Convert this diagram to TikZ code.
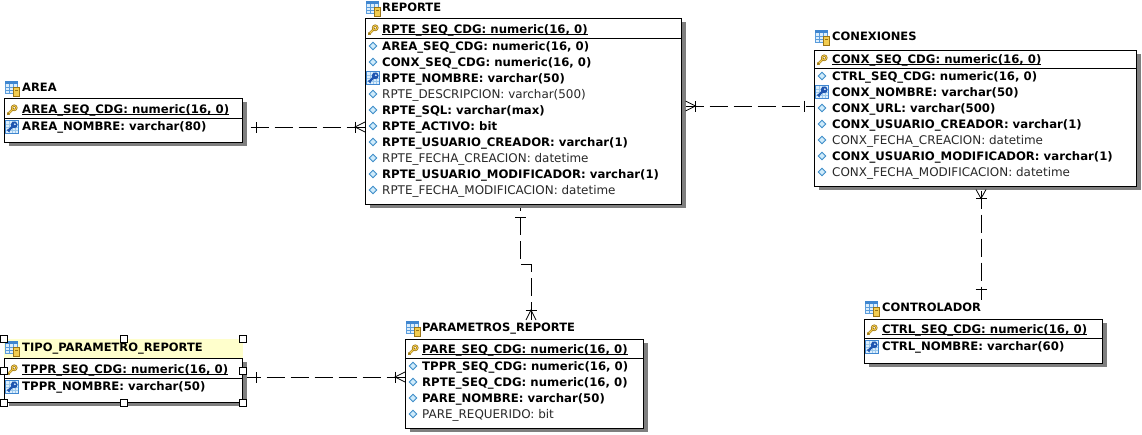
\documentclass[tikz,border=0pt]{standalone}
\usepackage{fontspec}
\setmainfont{DejaVu Sans}
\usetikzlibrary{shadows,calc}
\pgfdeclarelayer{bg}
\pgfsetlayers{bg,main}
\definecolor{shadowgray}{HTML}{7F7F7F}
\definecolor{titleyellow}{HTML}{FFFFCC}
\definecolor{iconblue}{HTML}{5A9CDC}
\definecolor{iconhead}{HTML}{3F86D0}
\definecolor{iconlight}{HTML}{DCEEFC}
\definecolor{icongrid}{HTML}{9CC8EC}
\definecolor{icondark}{HTML}{1F55B0}
\definecolor{gold}{HTML}{F2CC50}
\definecolor{golddark}{HTML}{9A7414}
\definecolor{diamondblue}{HTML}{CFEBFB}
\definecolor{diamondline}{HTML}{3C8CC8}
\definecolor{regtext}{HTML}{282828}
\newsavebox{\ulbox}
\newcommand{\keyline}[1]{\sbox{\ulbox}{#1}\rlap{\rule[-1.6pt]{\wd\ulbox}{1pt}}#1}
\tikzset{
  x=1pt,y=-1pt,
  tablebox/.style={draw=black,line width=1pt,fill=white,anchor=north west,inner sep=0pt,outer sep=0pt,
    drop shadow={shadow xshift=4.5pt,shadow yshift=-3.5pt,fill=shadowgray,opacity=1}},
  titlenode/.style={anchor=base west,yshift=-4pt,inner sep=0pt,font=\fontsize{11.5}{13}\selectfont\bfseries},
  titlearea/.style={anchor=north west,inner sep=0pt,outer sep=0pt,minimum height=19pt},
  pkrow/.style={anchor=base west,yshift=-4pt,inner sep=0pt,font=\fontsize{11.7}{13}\selectfont\bfseries},
  boldrow/.style={anchor=base west,yshift=-4pt,inner sep=0pt,font=\fontsize{11.7}{13}\selectfont\bfseries},
  regrow/.style={anchor=base west,yshift=-4pt,inner sep=0pt,text=regtext,font=\fontsize{11.95}{13}\selectfont},
  rel/.style={draw=black,line width=1pt,dash pattern=on 18pt off 6pt},
  relmark/.style={draw=black,line width=1pt},
  handle/.style={draw=black,line width=0.9pt,fill=white,minimum size=7pt,inner sep=0pt,outer sep=0pt},
}
% icons: centre given in picture pixels
\newcommand{\tblicon}[2]{%
  \begin{scope}[shift={(#1,#2)}]
    \fill[iconblue] (-7,-7) rectangle (6,6);
    \fill[iconhead] (-7,-7) rectangle (6,-4);
    \fill[iconlight] (-6,-4) rectangle (5,5);
    \foreach \yy in {-1,2}{\draw[iconblue,line width=0.8pt] (-6,\yy) -- (5,\yy);}
    \foreach \xx in {-3,1}{\draw[iconblue,line width=0.8pt] (\xx,-4) -- (\xx,5);}
    \fill[gold] (1.5,-1) rectangle (7.5,8);
    \draw[golddark,line width=0.5pt] (1.5,-1) rectangle (7.5,8);
    \fill[golddark] (3,2) rectangle (6,3);
  \end{scope}}
\newcommand{\keyicon}[2]{%
  \begin{scope}[shift={(#1,#2)}]
    \draw[golddark,line width=2.4pt,line cap=round] (-4,4) -- (1,-1);
    \draw[gold,line width=1.1pt,line cap=round] (-4,4) -- (1,-1);
    \draw[golddark,line width=1pt] (-4.5,2.5) -- (-2.5,4.5);
    \draw[golddark,line width=2.2pt] (2.2,-2.2) circle (2.2pt);
    \draw[gold,line width=0.9pt] (2.2,-2.2) circle (2.2pt);
  \end{scope}}
\newcommand{\bluekeyicon}[2]{%
  \begin{scope}[shift={(#1,#2)}]
    \fill[iconhead] (-7,-7) rectangle (7,7);
    \fill[iconlight] (-6,-6) rectangle (6,6);
    \foreach \yy in {-3,0,3}{\draw[icongrid,line width=0.6pt] (-6,\yy) -- (6,\yy);}
    \foreach \xx in {-3,0,3}{\draw[icongrid,line width=0.6pt] (\xx,-6) -- (\xx,6);}
    \draw[icondark,line width=2.4pt] (-4,4) -- (1,-1);
    \draw[icondark,line width=1.2pt] (-4.5,2.5) -- (-2.5,4.5);
    \fill[icondark] (2.2,-2.2) circle (3.4pt);
    \fill[iconlight] (2.8,-2.8) circle (1pt);
  \end{scope}}
\newcommand{\dmdicon}[2]{%
  \fill[diamondblue,draw=diamondline,line width=0.9pt] (#1-3.7,#2) -- (#1,#2-3.7) -- (#1+3.7,#2) -- (#1,#2+3.7) -- cycle;}
% one and many marks: #1 anchor point, #2,#3 outward unit vector, #4 distance
\newcommand{\onemark}[4]{%
  \draw[relmark] ($(#1)+(#2*#4+#3*5.5,#3*#4+#2*5.5)$) -- ($(#1)+(#2*#4-#3*5.5,#3*#4-#2*5.5)$);}
\newcommand{\manymark}[4]{%
  \draw[relmark,line width=0.8pt] ($(#1)+(#3*5,#2*5)$) -- ($(#1)+(#2*#4,#3*#4)$) -- ($(#1)+(-#3*5,-#2*5)$);
  \draw[relmark] ($(#1)+(#2*#4+#3*5.5,#3*#4+#2*5.5)$) -- ($(#1)+(#2*#4-#3*5.5,#3*#4-#2*5.5)$);}
\begin{document}
\begin{tikzpicture}
\useasboundingbox (0,0) rectangle (1142,434);
\begin{pgfonlayer}{bg}
\fill[white] (0,0) rectangle (1142,434);
\end{pgfonlayer}

% ---------- AREA
\node[titlearea,minimum width=238.5pt] (areatitle) at (4,79) {};
\node[tablebox,minimum width=238.5pt,minimum height=44.5pt] (area) at (4,98) {};
\tblicon{12}{88}
\node[titlenode] (areaname) at (22,87) {AREA};
\keyicon{12}{110}
\node[pkrow] (area1) at (22,109) {\keyline{AREA\_SEQ\_CDG: numeric(16, 0)}};
\draw[line width=1pt] (area.west |- 0,118) -- (area.east |- 0,118);
\bluekeyicon{12}{127}
\node[boldrow] (area2) at (22,126) {AREA\_NOMBRE: varchar(80)};

% ---------- TIPO_PARAMETRO_REPORTE
\fill[titleyellow] (4,339) rectangle (243,358);
\node[titlearea,minimum width=238.5pt] (tipotitle) at (4,339) {};
\node[tablebox,minimum width=238.5pt,minimum height=44.5pt] (tipo) at (4,358) {};
\tblicon{12}{348}
\node[titlenode] (tiponame) at (22,347) {TIPO\_PARAMETRO\_REPORTE};
\keyicon{12}{370}
\node[pkrow] (tipo1) at (22,369) {\keyline{TPPR\_SEQ\_CDG: numeric(16, 0)}};
\draw[line width=1pt] (tipo.west |- 0,378) -- (tipo.east |- 0,378);
\bluekeyicon{12}{387}
\node[boldrow] (tipo2) at (22,386) {TPPR\_NOMBRE: varchar(50)};
\foreach \hx/\hy [count=\hi] in {4/339,124/339,243/339,4/371,243/371,4/403,124/403,243/403}
  {\node[handle] (h\hi) at (\hx,\hy) {};}

% ---------- REPORTE
\node[tablebox,minimum width=316.5pt,minimum height=186.5pt] (reporte) at (365,18) {};
\tblicon{373}{8}
\node[titlenode] (repname) at (382,7) {REPORTE};
\keyicon{373}{30}
\node[pkrow] (rep1) at (382,29) {\keyline{RPTE\_SEQ\_CDG: numeric(16, 0)}};
\draw[line width=1pt] (reporte.west |- 0,38) -- (reporte.east |- 0,38);
\dmdicon{373}{46}
\node[boldrow] (rep2) at (382,46) {AREA\_SEQ\_CDG: numeric(16, 0)};
\dmdicon{373}{62}
\node[boldrow] (rep3) at (382,62) {CONX\_SEQ\_CDG: numeric(16, 0)};
\bluekeyicon{373}{78}
\node[boldrow] (rep4) at (382,78) {RPTE\_NOMBRE: varchar(50)};
\dmdicon{373}{94}
\node[regrow] (rep5) at (382,94) {RPTE\_DESCRIPCION: varchar(500)};
\dmdicon{373}{110}
\node[boldrow] (rep6) at (382,110) {RPTE\_SQL: varchar(max)};
\dmdicon{373}{126}
\node[boldrow] (rep7) at (382,126) {RPTE\_ACTIVO: bit};
\dmdicon{373}{142}
\node[boldrow] (rep8) at (382,142) {RPTE\_USUARIO\_CREADOR: varchar(1)};
\dmdicon{373}{158}
\node[regrow] (rep9) at (382,158) {RPTE\_FECHA\_CREACION: datetime};
\dmdicon{373}{174}
\node[boldrow] (rep10) at (382,174) {RPTE\_USUARIO\_MODIFICADOR: varchar(1)};
\dmdicon{373}{190}
\node[regrow] (rep11) at (382,190) {RPTE\_FECHA\_MODIFICACION: datetime};

% ---------- CONEXIONES
\node[tablebox,minimum width=322.5pt,minimum height=136.5pt] (conex) at (814,50) {};
\tblicon{822}{37}
\node[titlenode] (conname) at (832,36) {CONEXIONES};
\keyicon{822}{60}
\node[pkrow] (con1) at (832,59) {\keyline{CONX\_SEQ\_CDG: numeric(16, 0)}};
\draw[line width=1pt] (conex.west |- 0,68) -- (conex.east |- 0,68);
\dmdicon{822}{76}
\node[boldrow] (con2) at (832,76) {CTRL\_SEQ\_CDG: numeric(16, 0)};
\bluekeyicon{822}{92}
\node[boldrow] (con3) at (832,92) {CONX\_NOMBRE: varchar(50)};
\dmdicon{822}{108}
\node[boldrow] (con4) at (832,108) {CONX\_URL: varchar(500)};
\dmdicon{822}{124}
\node[boldrow] (con5) at (832,124) {CONX\_USUARIO\_CREADOR: varchar(1)};
\dmdicon{822}{140}
\node[regrow] (con6) at (832,140) {CONX\_FECHA\_CREACION: datetime};
\dmdicon{822}{156}
\node[boldrow] (con7) at (832,156) {CONX\_USUARIO\_MODIFICADOR: varchar(1)};
\dmdicon{822}{172}
\node[regrow] (con8) at (832,172) {CONX\_FECHA\_MODIFICACION: datetime};

% ---------- CONTROLADOR
\node[titlearea,minimum width=238.5pt] (ctrltitle) at (864,300) {};
\node[tablebox,minimum width=238.5pt,minimum height=44.5pt] (ctrl) at (864,319) {};
\tblicon{872}{308}
\node[titlenode] (ctrlname) at (882,307) {CONTROLADOR};
\keyicon{872}{330}
\node[pkrow] (ctrl1) at (882,329) {\keyline{CTRL\_SEQ\_CDG: numeric(16, 0)}};
\draw[line width=1pt] (ctrl.west |- 0,338) -- (ctrl.east |- 0,338);
\bluekeyicon{872}{347}
\node[boldrow] (ctrl2) at (882,346) {CTRL\_NOMBRE: varchar(60)};

% ---------- PARAMETROS_REPORTE
\node[titlearea,minimum width=238.5pt] (paramtitle) at (405,320) {};
\node[tablebox,minimum width=238.5pt,minimum height=89.5pt] (param) at (405,339) {};
\tblicon{413}{328}
\node[titlenode] (paramname) at (422,327) {PARAMETROS\_REPORTE};
\keyicon{413}{350}
\node[pkrow] (par1) at (422,349) {\keyline{PARE\_SEQ\_CDG: numeric(16, 0)}};
\draw[line width=1pt] (param.west |- 0,358) -- (param.east |- 0,358);
\dmdicon{413}{366}
\node[boldrow] (par2) at (422,366) {TPPR\_SEQ\_CDG: numeric(16, 0)};
\dmdicon{413}{382}
\node[boldrow] (par3) at (422,382) {RPTE\_SEQ\_CDG: numeric(16, 0)};
\dmdicon{413}{398}
\node[boldrow] (par4) at (422,398) {PARE\_NOMBRE: varchar(50)};
\dmdicon{413}{414}
\node[regrow] (par5) at (422,414) {PARE\_REQUERIDO: bit};

% ---------- connectors (below the boxes and their shadows)
\begin{pgfonlayer}{bg}
\draw[rel,dash phase=16pt] (area.east |- 0,127) -- (reporte.west |- 0,127);
\draw[rel] (tipo.east |- 0,377) -- (param.west |- 0,377);
\draw[rel,dash phase=20pt] (reporte.east |- 0,106) -- (conex.west |- 0,106);
\draw[rel,dash phase=11.3pt] (reporte.south -| 520,0) -- (520,264) -- (531,264) -- (paramtitle.north -| 531,0);
\draw[rel,dash phase=20pt] (conex.south -| 981,0) -- (ctrltitle.north -| 981,0);
\end{pgfonlayer}
% cardinality marks
\onemark{area.east |- 0,127}{1}{0}{14}
\manymark{reporte.west |- 0,127}{-1}{0}{10}
\onemark{tipo.east |- 0,377}{1}{0}{14}
\manymark{param.west |- 0,377}{-1}{0}{10}
\manymark{$(reporte.east |- 0,106)+(4,0)$}{1}{0}{10}
\onemark{conex.west |- 0,106}{-1}{0}{10}
\onemark{reporte.south -| 520,0}{0}{1}{13}
\manymark{paramtitle.north -| 531,0}{0}{-1}{10}
\manymark{$(conex.south -| 981,0)+(0,3)$}{0}{1}{9}
\onemark{ctrltitle.north -| 981,0}{0}{-1}{11}
\end{tikzpicture}
\end{document}
